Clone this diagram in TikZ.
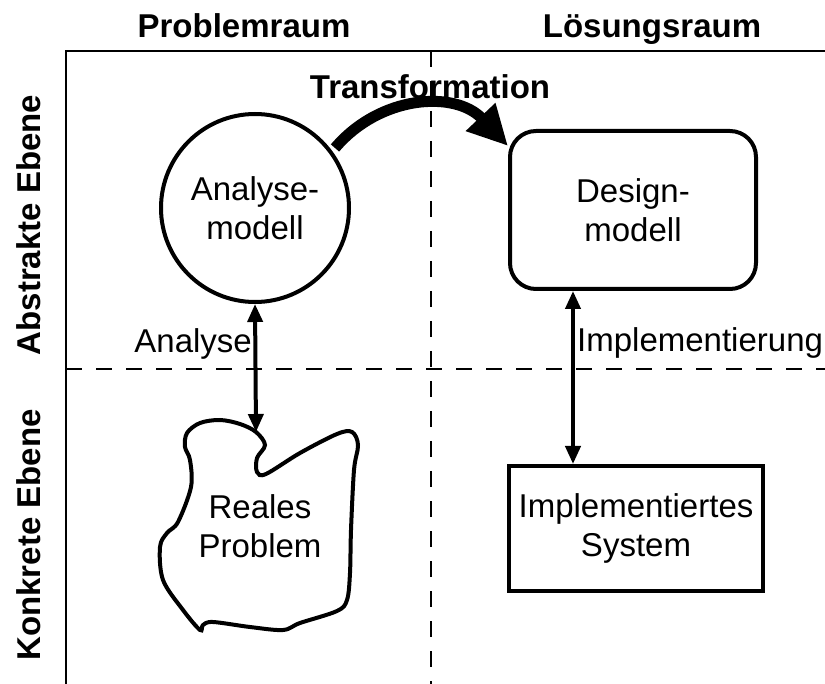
\documentclass[tikz,border=0pt]{standalone}
\usepackage{fontspec}
\setmainfont{Liberation Sans}
\usetikzlibrary{arrows.meta,calc}
\begin{document}
\begin{tikzpicture}[x=1pt,y=-1pt,
  txt/.style={font=\fontsize{33}{39}\selectfont, align=center, inner sep=0pt},
  btxt/.style={font=\fontsize{33}{39}\selectfont\bfseries, inner sep=0pt},
  frame/.style={line width=2pt},
  grid/.style={line width=2pt, dash pattern=on 16pt off 14pt},
  shp/.style={draw, line width=4pt},
  dbl/.style={line width=4pt, {Triangle[length=18pt,width=15pt]}-{Triangle[length=18pt,width=15pt]}},
  bigarrow/.style={line width=11pt, -{Triangle[length=40pt,width=38pt]}}
]
\useasboundingbox (0,0) rectangle (825,684);
% frame and grid
\coordinate (tl) at (66,51);
\coordinate (tr) at (825,51);
\coordinate (bl) at (66,684);
\coordinate (vt) at (431,51);
\coordinate (vb) at (431,684);
\coordinate (hl) at (66,369);
\coordinate (hr) at (825,369);
\draw[frame] (tr) -- (tl) -- (bl);
\draw[grid] (vt) -- (vb);
\draw[grid] (hl) -- (hr);
% titles
\node[btxt, anchor=base] (prob) at (244,38) {Problemraum};
\node[btxt, anchor=base] (loes) at (652,38) {Lösungsraum};
\node[btxt, anchor=base, rotate=90] (abs) at (40,225) {Abstrakte Ebene};
\node[btxt, anchor=base, rotate=90] (konk) at (40,535) {Konkrete Ebene};
% nodes
\node[shp, circle, minimum size=188pt, txt, fill=white] (ana) at (255,208) {Analyse-\\modell};
\node[shp, rounded corners=26pt, minimum width=246pt, minimum height=158pt, txt, fill=white] (des) at (633,210) {Design-\\modell};
\node[shp, minimum width=254pt, minimum height=125pt, txt, fill=white] (impl) at (636,528.5) {Implementiertes\\System};
% blob
\draw[line width=4pt, fill=white] plot[smooth cycle, tension=0.55] coordinates {
 (256,432) (265,445) (257,458) (257,472) (266,474) (300,453) (337,434) (352,432)
 (358,445) (354,470) (351,530) (350,573) (347,600) (337,611) (300,623) (283,630)
 (250,627) (213,622) (203,625) (200,630) (183,610) (163,580) (160,547) (167,533)
 (178,522) (191,487) (190,460) (185,447) (187,433) (200,423) (220,420) (240,424)};
\coordinate (notch) at (256,432);
\node[txt] (real) at (260,526) {Reales\\Problem};
% arrows
\draw[dbl] (ana.south) -- (notch);
\coordinate (iu) at (573,0);
\draw[dbl] (des.south -| iu) -- (impl.north -| iu);
\node[txt, anchor=base east] (lana) at (252,353) {Analyse};
\node[txt, anchor=base west] (limp) at (577,352) {Implementierung};
% transformation
\coordinate (ts) at (335,148);
\coordinate (te) at (508,146);
\draw[bigarrow] (ts) .. controls (380,95) and (455,90) .. (te);
\node[btxt, anchor=base] (trans) at (430,99) {Transformation};
\end{tikzpicture}
\end{document}
